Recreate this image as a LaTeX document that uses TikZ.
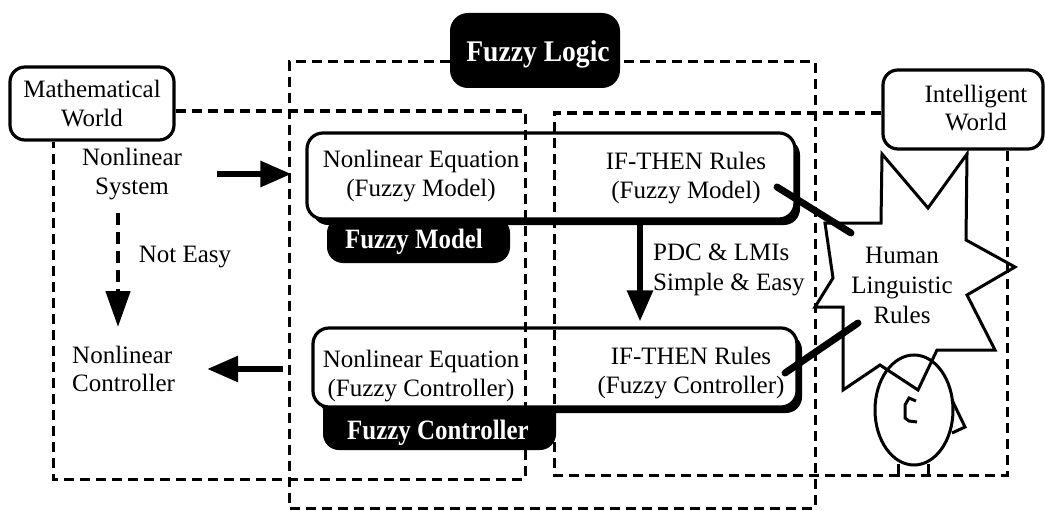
\documentclass[tikz,border=0pt]{standalone}
\usepackage{graphicx}
\usepackage{fontspec}
\setmainfont{Liberation Serif}
\usetikzlibrary{arrows.meta,shadows}
\begin{document}
\begin{tikzpicture}[x=1pt,y=-1pt,
  txt/.style={font=\fontsize{25}{28.5}\selectfont, align=center, inner sep=0pt},
  txtwide/.style={txt, font=\fontsize{25}{30}\selectfont},
  worldbox/.style={draw, line width=3.2pt, rounded corners=15pt, fill=white, inner sep=0pt},
  rulebox/.style={draw, line width=3.2pt, rounded corners=16pt, fill=white, inner sep=0pt,
    drop shadow={shadow xshift=5pt, shadow yshift=-6pt, fill=black, opacity=1}},
  tagbox/.style={fill=black, rounded corners=16pt, inner sep=0pt},
  tagtxt/.style={text=white, inner sep=0pt, font=\fontsize{28}{30}\selectfont\bfseries},
  region/.style={line width=3pt, dash pattern=on 10pt off 6pt},
  flow/.style={line width=6pt, -{Triangle[length=31pt,width=25pt]}},
  link/.style={line width=7pt, line cap=round},
  outline/.style={line width=3pt, line join=miter},
]
\useasboundingbox (0,0) rectangle (1045,511);

% black tags, partly hidden under the rule boxes
\node[tagbox, minimum width=183pt, minimum height=46pt] (fmtag) at (418.5,240) {};
\node[tagbox, minimum width=233pt, minimum height=55pt] (fctag) at (439.5,422.5) {};

% rule boxes with heavy shadow
\node[rulebox, minimum width=488pt, minimum height=86pt] (fm) at (551,176) {};
\node[rulebox, minimum width=484pt, minimum height=79pt] (fc) at (555,367.5) {};

% world boxes and the fuzzy logic title
\node[worldbox, txt, minimum width=164pt, minimum height=73pt] (mw) at (92,103.5) {Mathematical\\World};
\node[worldbox, minimum width=160pt, minimum height=79pt] (iw) at (963,109.5) {};
\node[txt] (iwtxt) at (976,108) {Intelligent\\World};
\node[tagbox, minimum width=170pt, minimum height=75pt, rounded corners=18pt] (fl) at (535,50.5) {};
\node[tagtxt, font=\fontsize{30}{32}\selectfont\bfseries] (fltxt) at (538,54) {\scalebox{0.92}[1]{Fuzzy Logic}};

% dashed regions
\coordinate (mwTR) at (525,111);
\coordinate (mwBL) at (53,479);
\draw[region] (mw.east |- mwTR) -- (mwTR) -- (mwTR |- mwBL) -- (mwBL) -- (mw.south -| mwBL);

\coordinate (iwTL) at (554,113);
\coordinate (iwBR) at (1007,475);
\draw[region] (iw.west |- iwTL) -- (iwTL) -- (iwTL |- iwBR) -- (iwBR) -- (iw.south -| iwBR);

\coordinate (flTL) at (289,62);
\coordinate (flBR) at (815,508);
\draw[region] (fl.west |- flTL) -- (flTL) -- (flTL |- flBR) -- (flBR) -- (flBR |- flTL) -- (fl.east |- flTL);

% tag captions sit above the dashed lines
\node[tagtxt] (fmtagtxt) at (414,242) {\scalebox{0.89}[1]{Fuzzy Model}};
\node[tagtxt] (fctagtxt) at (438,433) {\scalebox{0.89}[1]{Fuzzy Controller}};

% texts
\node[txt] (nem) at (421,176) {Nonlinear Equation\\(Fuzzy Model)};
\node[txt] (ifm) at (686,178) {IF-THEN Rules\\(Fuzzy Model)};
\node[txt] (nec) at (421,376) {Nonlinear Equation\\(Fuzzy Controller)};
\node[txt] (ifc) at (691,373) {IF-THEN Rules\\(Fuzzy Controller)};
\node[txt] (nsys) at (132,174) {Nonlinear\\System};
\node[txt, anchor=west, align=left] (nctl) at (72,369) {Nonlinear\\Controller};
\node[txt] (noteasy) at (185,257) {Not Easy};
\node[txtwide, anchor=west, align=left] (pdc) at (653,270) {PDC \& LMIs\\Simple \& Easy};
\node[txtwide] (human) at (902,285) {Human\\Linguistic\\Rules};

% arrows
\draw[flow, shorten <=35pt, shorten >=14pt] (nsys.east) -- (fm.west |- nsys.east);
\draw[flow, shorten <=28pt, shorten >=32pt] (fc.west |- nctl.east) -- (nctl.east);
\coordinate (neA) at (118,213);
\coordinate (neB) at (118,327);
\draw[flow, line width=4.8pt, dash pattern=on 12pt off 7pt, -{Triangle[length=36pt,width=24pt]}] (neA) -- (neB);
\coordinate (pdcX) at (640,0);
\draw[flow, shorten >=5pt] (fm.south -| pdcX) -- (fc.north -| pdcX);

% thick links from the rule boxes to the speech star
\coordinate (lkA) at (777,187);
\coordinate (lkB) at (851,233);
\coordinate (lkC) at (785,373);
\coordinate (lkD) at (858,323);
\draw[link] (lkA) -- (lkB);
\draw[link] (lkC) -- (lkD);

% speech star
\draw[outline] (825,223) -- (881,223) -- (882,154) -- (928,208) -- (967,154) -- (966,240)
  -- (1015,267) -- (967,295) -- (995,350) -- (937,350) -- (918,390) -- (880,365)
  -- (843,390) -- (843,307) -- (815,307) -- (833,278) -- cycle;

% little person
\draw[outline] (914,410) ellipse [x radius=39pt, y radius=55pt];
\draw[outline] (952,400) -- (965,427) -- (952,433);
\draw[outline] (916,401) -- (909,398) -- (905,405) -- (905,418) -- (909,421) -- (917,422);
\draw[outline] (898,464) -- (898,477);
\draw[outline] (928,464) -- (928,477);
\end{tikzpicture}
\end{document}
